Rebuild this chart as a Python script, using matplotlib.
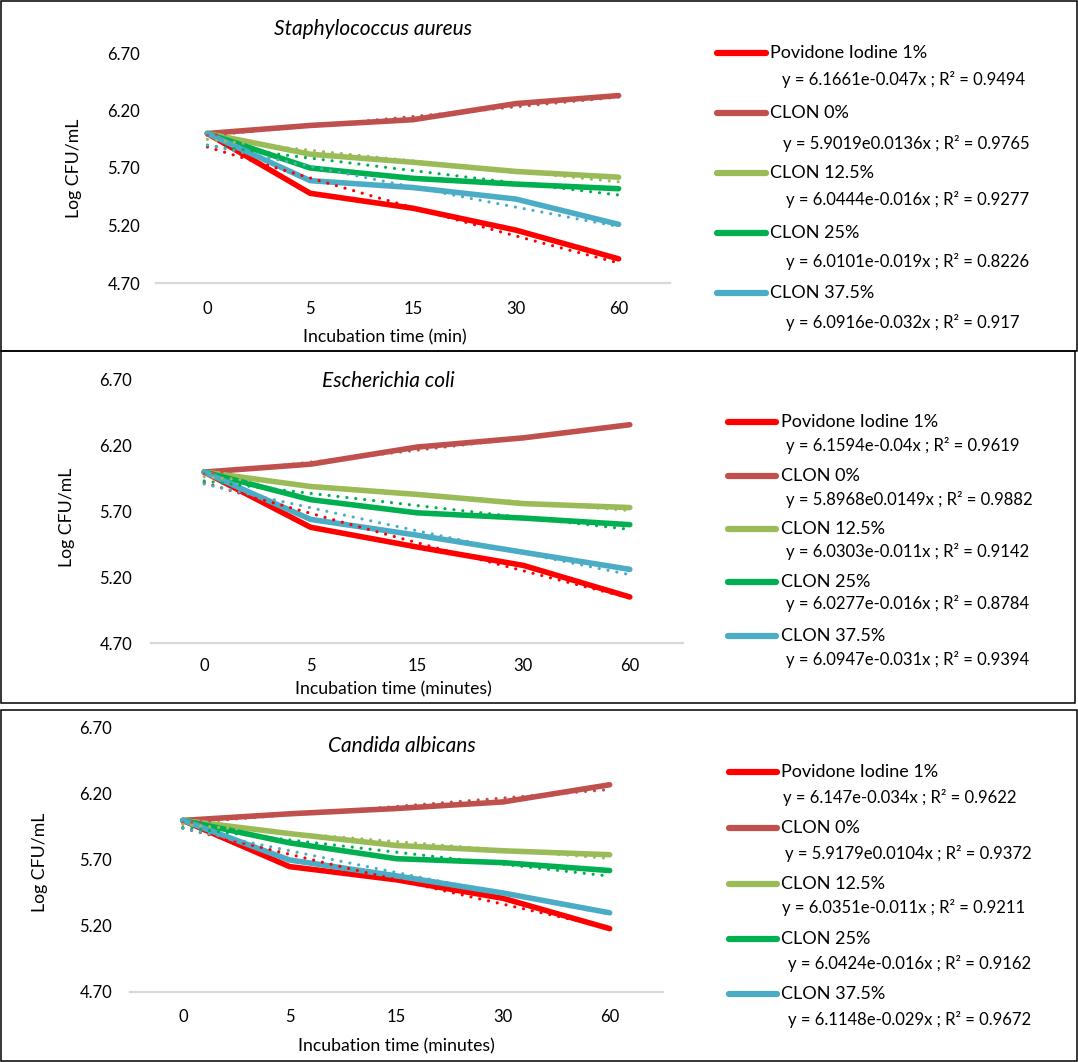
import numpy as np
import matplotlib
matplotlib.use("Agg")
import matplotlib.pyplot as plt
from matplotlib.patches import Rectangle
from matplotlib.lines import Line2D

plt.rcParams['font.family'] = ['Lato', 'DejaVu Sans']

W, H = 1078, 1062

times = ["0", "5", "15", "30", "60"]
series_names = ["Povidone Iodine 1%", "CLON 0%", "CLON 12.5%", "CLON 25%", "CLON 37.5%"]
series_colors = ["#FF0000", "#C0504D", "#9BBB59", "#00B050", "#4BACC6"]

panel_titles = ["Staphylococcus aureus", "Escherichia coli", "Candida albicans"]
panel_xlabels = ["Incubation time (min)", "Incubation time (minutes)", "Incubation time (minutes)"]
y_ticks = [4.70, 5.20, 5.70, 6.20, 6.70]

# Log CFU/mL values per series (order as series_names)
staph_values = [
    [6.00, 5.48, 5.35, 5.16, 4.91],
    [6.00, 6.07, 6.12, 6.26, 6.33],
    [6.00, 5.82, 5.75, 5.67, 5.62],
    [6.00, 5.70, 5.61, 5.56, 5.52],
    [6.00, 5.59, 5.53, 5.43, 5.21],
]
ecoli_values = [
    [6.00, 5.58, 5.43, 5.29, 5.05],
    [6.00, 6.06, 6.19, 6.26, 6.36],
    [6.00, 5.89, 5.83, 5.76, 5.73],
    [6.00, 5.79, 5.69, 5.65, 5.60],
    [6.00, 5.64, 5.52, 5.39, 5.26],
]
candida_values = [
    [6.00, 5.65, 5.55, 5.41, 5.18],
    [6.00, 6.05, 6.09, 6.14, 6.27],
    [6.00, 5.90, 5.81, 5.77, 5.74],
    [6.00, 5.83, 5.71, 5.68, 5.62],
    [6.00, 5.70, 5.58, 5.45, 5.30],
]

# Exponential trendline coefficients (y = a e^(b x)) and R² as printed
staph_a = ["6.1661", "5.9019", "6.0444", "6.0101", "6.0916"]
staph_b = ["-0.047", "0.0136", "-0.016", "-0.019", "-0.032"]
staph_r2 = ["0.9494", "0.9765", "0.9277", "0.8226", "0.917"]
ecoli_a = ["6.1594", "5.8968", "6.0303", "6.0277", "6.0947"]
ecoli_b = ["-0.04", "0.0149", "-0.011", "-0.016", "-0.031"]
ecoli_r2 = ["0.9619", "0.9882", "0.9142", "0.8784", "0.9394"]
candida_a = ["6.147", "5.9179", "6.0351", "6.0424", "6.1148"]
candida_b = ["-0.034", "0.0104", "-0.011", "-0.016", "-0.029"]
candida_r2 = ["0.9622", "0.9372", "0.9211", "0.9162", "0.9672"]

panels_values = [staph_values, ecoli_values, candida_values]
panels_a = [staph_a, ecoli_a, candida_a]
panels_b = [staph_b, ecoli_b, candida_b]
panels_r2 = [staph_r2, ecoli_r2, candida_r2]

# ---------- layout (pixels) ----------
axes_px = [  # left, right, top, bottom
    (156, 670, 53, 283),
    (151, 683, 380, 643),
    (129.5, 663, 728, 992),
]
title_px = [(373, 29), (388, 381), (402, 746)]
xlabel_px = [(385, 337), (393, 689), (396, 1046)]
ylabel_px = [(74, 168), (67, 517), (40, 862)]
ytick_pad = [11.5, 13.5, 12.5]
xtick_pad = [13, 11, 12]
borders_px = [(0.7, 0.7, 1077, 351), (0.7, 351, 1075, 703), (1.2, 710, 1077, 1061)]
legend_px = [
    dict(x0=717, x1=766, xt=770, name_y=[53, 113, 173, 233, 293], eq_x=[782, 783, 786, 786, 786], eq_y=[80, 143, 200, 262, 322]),
    dict(x0=728, x1=776, xt=781, name_y=[422, 476, 529, 582, 636], eq_x=[786, 786, 786, 786, 786], eq_y=[446, 499, 551, 603, 659]),
    dict(x0=729, x1=777, xt=781, name_y=[772, 828, 884, 939, 994], eq_x=[783, 785, 782, 788, 788], eq_y=[797, 853, 908, 963, 1020]),
]

def fx(x):
    return x / W

def fy(y):
    return 1 - y / H

fig = plt.figure(figsize=(W / 100, H / 100), dpi=100)
fig.patch.set_facecolor("white")

FS = 12
LFS = 12.7
pos = np.arange(len(times))

for p in range(3):
    l, r, t, b = axes_px[p]
    ax = fig.add_axes([fx(l), fy(b), (r - l) / W, (b - t) / H])
    vals = panels_values[p]
    for i in range(5):
        ax.plot(pos, vals[i], color=series_colors[i], lw=4.0,
                solid_capstyle='round', solid_joinstyle='round', zorder=3 + i * 0.01)
    xf = np.linspace(1, 5, 200)
    for i in range(5):
        a = float(panels_a[p][i]); bb = float(panels_b[p][i])
        ax.plot(xf - 1, a * np.exp(bb * xf), color=series_colors[i], lw=2.3,
                linestyle=(0, (0.01, 2.8)), dash_capstyle='round', zorder=5 + i * 0.01)
    ax.set_xlim(-0.5, 4.5)
    ax.set_ylim(4.70, 6.70)
    ax.set_xticks(pos)
    ax.set_xticklabels(times)
    ax.set_yticks(y_ticks)
    ax.set_yticklabels([f"{v:.2f}" for v in y_ticks])
    for s in ["top", "right", "left"]:
        ax.spines[s].set_visible(False)
    ax.spines["bottom"].set_color("#D9D9D9")
    ax.spines["bottom"].set_linewidth(1.6)
    ax.tick_params(axis='both', length=0, labelsize=FS, colors="#000000")
    ax.tick_params(axis='y', pad=ytick_pad[p])
    ax.tick_params(axis='x', pad=xtick_pad[p])
    ax.patch.set_alpha(0)
    for sp in ax.spines.values():
        sp.set_clip_on(False)

    tx, ty = title_px[p]
    fig.text(fx(tx), fy(ty), panel_titles[p], ha='center', va='center',
             fontsize=15, style='italic')
    lx, ly = xlabel_px[p]
    fig.text(fx(lx), fy(ly), panel_xlabels[p], ha='center', va='center', fontsize=LFS)
    yx, yy = ylabel_px[p]
    fig.text(fx(yx), fy(yy), "Log CFU/mL", ha='center', va='center', fontsize=LFS, rotation=90)

    # legend
    lg = legend_px[p]
    for i in range(5):
        ny = lg["name_y"][i]
        fig.add_artist(Line2D([fx(lg["x0"]), fx(lg["x1"])], [fy(ny), fy(ny)],
                              transform=fig.transFigure, color=series_colors[i],
                              lw=4.5, solid_capstyle='round'))
        fig.text(fx(lg["xt"]), fy(ny), series_names[i], ha='left', va='center', fontsize=13)
        eq = f"y = {panels_a[p][i]}e{panels_b[p][i]}x ; R² = {panels_r2[p][i]}"
        fig.text(fx(lg["eq_x"][i]), fy(lg["eq_y"][i]), eq, ha='left', va='center', fontsize=FS)

    bx0, by0, bx1, by1 = borders_px[p]
    fig.add_artist(Rectangle((fx(bx0), fy(by1)), (bx1 - bx0) / W, (by1 - by0) / H,
                             transform=fig.transFigure, fill=False, edgecolor="black", lw=1.1))

fig.savefig("out.png", dpi=100, facecolor="white")
